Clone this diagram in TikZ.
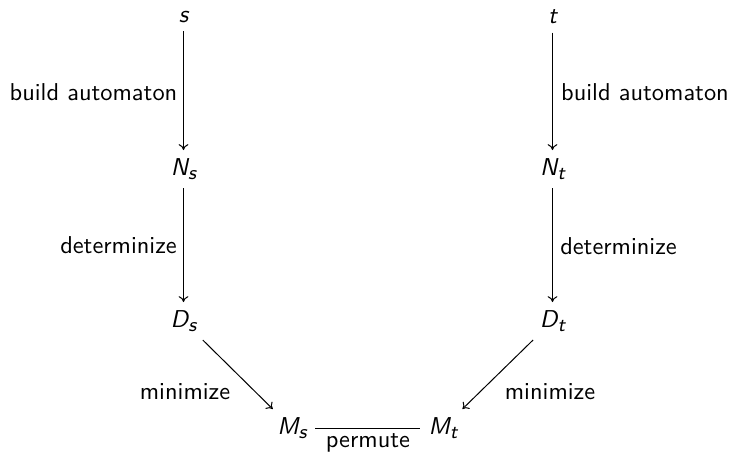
\documentclass[tikz,border=0pt]{standalone}
\usepackage{fontspec}
\usetikzlibrary{arrows.meta}
\newcommand\msub[2]{#1\raisebox{-0.35ex}{\footnotesize #2}}
\begin{document}
\begin{tikzpicture}[x=0.41pt,y=-0.41pt,font=\sffamily,
  obj/.style={font=\sffamily\slshape, inner sep=3.3pt},
  lbl/.style={font=\sffamily, inner sep=0pt},
  arr/.style={-{To[length=2.4pt,width=4pt]}, line width=0.41pt}]
\useasboundingbox (0,0) rectangle (731,453);
\node[obj] (s) at (183.5,17) {s};
\node[obj] (t) at (552.5,17) {t};
\node[obj] (Ns) at (183.5,169) {\msub{N}{s}};
\node[obj] (Nt) at (552.5,169) {\msub{N}{t}};
\node[obj] (Ds) at (183.5,321) {\msub{D}{s}};
\node[obj] (Dt) at (552.5,321) {\msub{D}{t}};
\node[obj] (Ms) at (292,428) {\msub{M}{s}};
\node[obj] (Mt) at (443,428) {\msub{M}{t}};
\draw[arr] (s) -- (Ns);
\draw[arr] (t) -- (Nt);
\draw[arr] (Ns) -- (Ds);
\draw[arr] (Nt) -- (Dt);
\draw[arr] (Ds) -- (Ms);
\draw[arr] (Dt) -- (Mt);
\draw[line width=0.41pt] (Ms) -- (Mt);
\node[lbl] (l1) at (93.5,92) {build automaton};
\node[lbl] (l2) at (645,92) {build automaton};
\node[lbl] (l3) at (118.5,245) {determinize};
\node[lbl] (l4) at (618.5,246) {determinize};
\node[lbl] (l5) at (185,392) {minimize};
\node[lbl] (l6) at (550,392) {minimize};
\node[lbl] (l7) at (368,443) {permute};
\end{tikzpicture}
\end{document}
